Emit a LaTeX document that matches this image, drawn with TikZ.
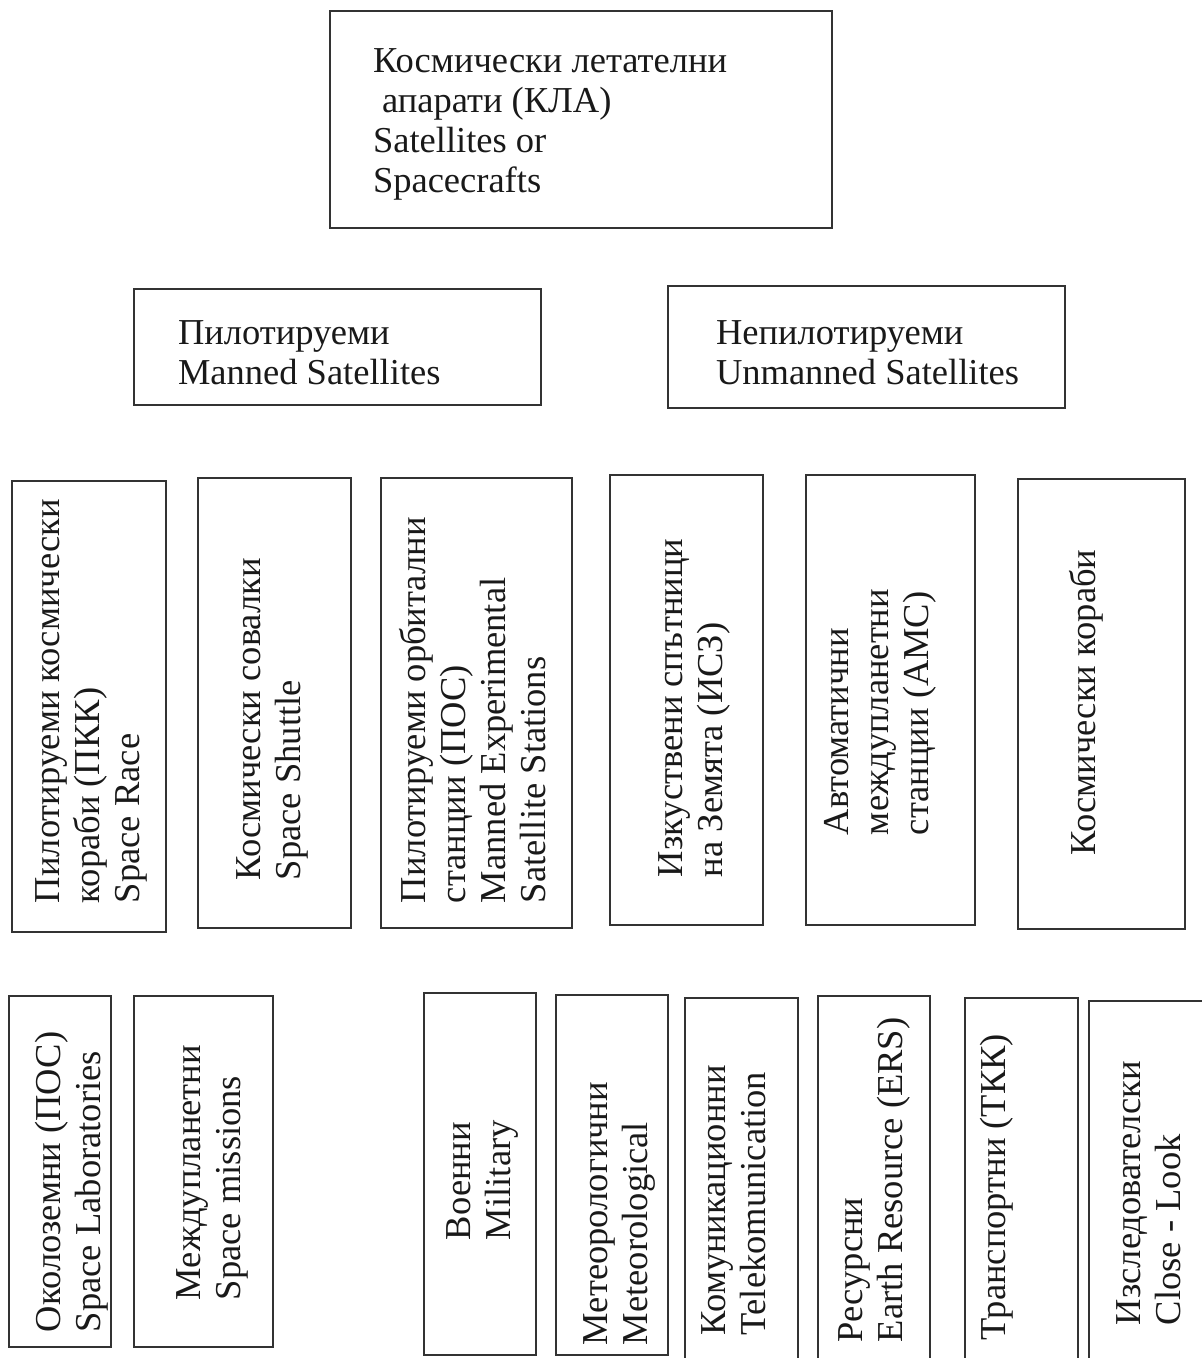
\documentclass[tikz,border=0pt]{standalone}
\usepackage{fontspec}
\setmainfont{Liberation Serif}
\newcommand\dfont{\fontsize{18.25pt}{20pt}\selectfont}
\newcommand\bx[5]{\node[boxst, anchor=north west, minimum width={(#4-#2)*0.5pt}, minimum height={(#5-#3)*0.5pt}] (#1) at (#2,#3) {};}
\tikzset{
  boxst/.style={draw=black!80, line width=0.7pt, inner sep=0pt, outer sep=0pt},
  htext/.style={inner sep=0pt, outer sep=0pt, align=left, anchor=base west, text=black!90, font=\dfont},
  vtext/.style={htext, rotate=90}
}
\begin{document}
\begin{tikzpicture}[x=0.5pt, y=-0.5pt]
\useasboundingbox (0,0) rectangle (1202,1358);
\clip (0,0) rectangle (1202,1358);
% level 0 (anchors are at the baseline of the last line)
\bx{b0}{330}{11}{832}{228}
\node[htext] (t0) at (373,193) {Космически летателни\\\hspace*{0.25em}апарати (КЛА)\\Satellites or\\Spacecrafts};
% level 1
\bx{bm}{134}{289}{541}{405}
\node[htext] (tm) at (178,384) {Пилотируеми\\Manned Satellites};
\bx{bu}{668}{286}{1065}{408}
\node[htext] (tu) at (716,384) {Непилотируеми\\Unmanned Satellites};
% level 2
\bx{r1}{12}{481}{166}{932}
\node[vtext] (tr1) at (139,903) {Пилотируеми космически\\кораби (ПКК)\\Space Race};
\bx{r2}{198}{478}{351}{928}
\node[vtext] (tr2) at (300,880) {Космически совалки\\Space Shuttle};
\bx{r3}{381}{478}{572}{928}
\node[vtext] (tr3) at (545,903) {Пилотируеми орбитални\\станции (ПОС)\\Manned Experimental\\Satellite Stations};
\bx{r4}{610}{475}{763}{925}
\node[vtext] (tr4) at (722,877) {Изкуствени спътници\\на Земята (ИСЗ)};
\bx{r5}{806}{475}{975}{925}
\node[vtext] (tr5) at (928,835) {Автоматични\\междупланетни\\станции (АМС)};
\bx{r6}{1018}{479}{1185}{929}
\node[vtext] (tr6) at (1095,855) {Космически кораби};
% level 3
\bx{c1}{9}{996}{111}{1347}
\node[vtext] (tc1) at (100,1332) {Околоземни (ПОС)\\Space Laboratories};
\bx{c2}{134}{996}{273}{1347}
\node[vtext] (tc2) at (240,1300) {Междупланетни\\Space missions};
\bx{c3}{424}{993}{536}{1355}
\node[vtext] (tc3) at (510,1240) {Военни\\Military};
\bx{c4}{556}{995}{668}{1355}
\node[vtext] (tc4) at (647,1345) {Метеорологични\\Meteorological};
\bx{c5}{685}{998}{798}{1370}
\node[vtext] (tc5) at (765,1335) {Комуникационни\\Telekomunication};
\bx{c6}{818}{996}{930}{1370}
\node[vtext] (tc6) at (902,1342) {Ресурсни\\Earth Resource (ERS)};
\bx{c7}{965}{998}{1078}{1370}
\node[vtext] (tc7) at (1005,1340) {Транспортни (ТКК)};
\bx{c8}{1089}{1001}{1215}{1370}
\node[vtext] (tc8) at (1180,1325) {Изследователски\\Close - Look};
\end{tikzpicture}
\end{document}
